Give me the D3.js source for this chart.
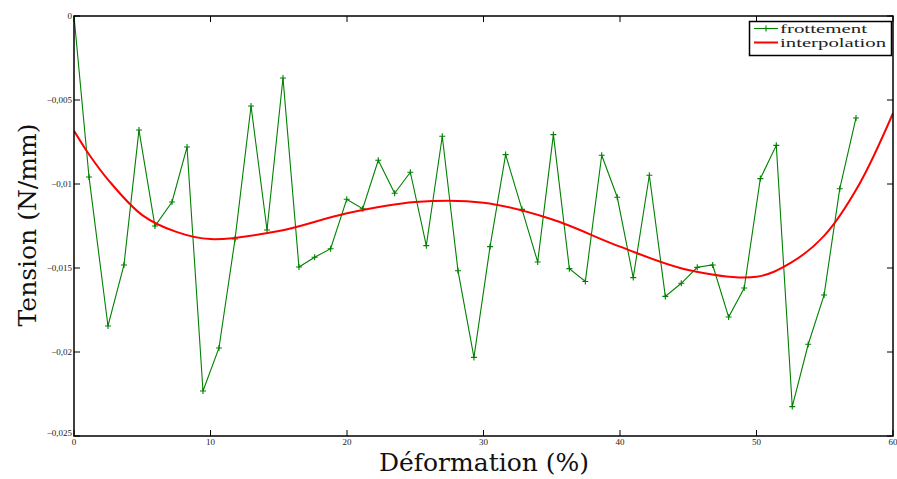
<!DOCTYPE html>
<html>
<head>
<meta charset="utf-8">
<script src="https://cdn.jsdelivr.net/npm/d3@7"></script>
<style>
  html, body { margin: 0; padding: 0; background: #fff; }
  svg { display: block; }
</style>
</head>
<body>
<svg id="chart" width="897" height="479"></svg>
<script>
// ---- data ----
const frotX = [0, 1.10, 2.49, 3.66, 4.76, 5.93, 7.18, 8.28, 9.45, 10.62, 11.80, 12.97, 14.14, 15.31,
  16.48, 17.63, 18.80, 19.98, 21.15, 22.29, 23.49, 24.64, 25.81, 26.98, 28.13, 29.30,
  30.48, 31.62, 32.82, 33.97, 35.12, 36.29, 37.46, 38.66, 39.80, 40.97, 42.15, 43.32, 44.49, 45.66,
  46.79, 47.96, 49.10, 50.28, 51.45, 52.62, 53.79, 54.95, 56.10, 57.29];
const frotY = [0, -0.00958, -0.01845, -0.01482, -0.00679, -0.01250, -0.01107, -0.00780, -0.02232, -0.01976,
  -0.01327, -0.00536, -0.01274, -0.00369,
  -0.01494, -0.01436, -0.01385, -0.01091, -0.01147, -0.00859, -0.01055, -0.00930, -0.01367, -0.00716,
  -0.01516, -0.02032,
  -0.01373, -0.00825, -0.01151, -0.01464, -0.00706, -0.01504, -0.01580, -0.00829, -0.01079, -0.01557,
  -0.00948, -0.01669, -0.01591, -0.01496,
  -0.01482, -0.01792, -0.01619, -0.00968, -0.00770, -0.02325, -0.01954, -0.01661, -0.01028, -0.00607];

const interpX = [0, 1.17, 2.5, 5, 7.5, 10, 15, 20, 25, 30, 35, 40, 45, 50, 52.5, 55, 57.5, 60];
const interpY = [-0.00683, -0.00832, -0.00975, -0.01185, -0.01285, -0.01328, -0.01280, -0.01174, -0.01107,
  -0.01111, -0.01210, -0.01373, -0.01512, -0.01552, -0.01470, -0.01304, -0.01006, -0.00579];

const xTicks = [0, 10, 20, 30, 40, 50, 60];
const yTicks = [0, -0.005, -0.01, -0.015, -0.02, -0.025];
const seriesNames = ["frottement", "interpolation"];
const seriesColors = ["#008000", "#ff0000"];

// ---- layout ----
const svg = d3.select("#chart");
const L = 74, R = 893, T = 16, B = 436;
const x = d3.scaleLinear().domain([0, 60]).range([L, R]);
const y = d3.scaleLinear().domain([-0.025, 0]).range([B, T]);
const FONT = "Liberation Serif";
const TITLE_FONT = "DejaVu Serif";

const fmt = v => {
  if (v === 0) return "0";
  return ("" + v).replace(".", ",").replace("-", "\u2212");
};

svg.append("defs").append("clipPath").attr("id", "clip")
  .append("rect").attr("x", L).attr("y", T).attr("width", R - L).attr("height", B - T);

// ticks (inward on all four sides)
const tk = 6;
const axG = svg.append("g").attr("stroke", "#000").attr("stroke-width", 1);
xTicks.forEach(t => {
  axG.append("line").attr("x1", x(t)).attr("x2", x(t)).attr("y1", B).attr("y2", B - tk);
  axG.append("line").attr("x1", x(t)).attr("x2", x(t)).attr("y1", T).attr("y2", T + tk);
});
yTicks.forEach(t => {
  axG.append("line").attr("x1", L).attr("x2", L + tk).attr("y1", y(t)).attr("y2", y(t));
  axG.append("line").attr("x1", R).attr("x2", R - tk).attr("y1", y(t)).attr("y2", y(t));
});

// data lines
const gData = svg.append("g").attr("clip-path", "url(#clip)");
const frot = frotX.map((d, i) => [d, frotY[i]]);
const interp = interpX.map((d, i) => [d, interpY[i]]);

gData.append("path").datum(frot)
  .attr("fill", "none").attr("stroke", seriesColors[0]).attr("stroke-width", 1.1)
  .attr("d", d3.line().x(d => x(d[0])).y(d => y(d[1])));

const ms = 3;
gData.append("g").selectAll("path.mk").data(frot).join("path")
  .attr("class", "mk")
  .attr("d", d => `M${x(d[0]) - ms},${y(d[1])}H${x(d[0]) + ms}M${x(d[0])},${y(d[1]) - ms}V${y(d[1]) + ms}`)
  .attr("stroke", seriesColors[0]).attr("stroke-width", 1.1).attr("fill", "none");

gData.append("path").datum(interp)
  .attr("fill", "none").attr("stroke", seriesColors[1]).attr("stroke-width", 2)
  .attr("d", d3.line().x(d => x(d[0])).y(d => y(d[1])).curve(d3.curveCatmullRom.alpha(0.5)));

// frame
svg.append("rect").attr("x", L).attr("y", T).attr("width", R - L).attr("height", B - T)
  .attr("fill", "none").attr("stroke", "#000").attr("stroke-width", 1.5);

// tick labels
svg.append("g").selectAll("text").data(xTicks).join("text")
  .attr("x", d => x(d)).attr("y", 445)
  .attr("text-anchor", "middle")
  .attr("font-family", FONT).attr("font-size", 9).attr("fill", "#222")
  .text(d => d);

svg.append("g").selectAll("text").data(yTicks).join("text")
  .attr("x", L - 2).attr("y", d => d === -0.025 ? y(d) - 0.5 : y(d) + 3)
  .attr("text-anchor", "end")
  .attr("font-family", FONT).attr("font-size", 9).attr("fill", "#222")
  .text(d => fmt(d));

// axis titles
svg.append("text")
  .attr("transform", `translate(36,${225}) rotate(-90)`)
  .attr("text-anchor", "middle")
  .attr("font-family", TITLE_FONT).attr("font-size", 25).attr("fill", "#111")
  .text("Tension (N/mm)");

svg.append("text")
  .attr("x", 484).attr("y", 471)
  .attr("text-anchor", "middle")
  .attr("font-family", TITLE_FONT).attr("font-size", 25).attr("fill", "#111")
  .text("Déformation (%)");

// legend
const lg = svg.append("g");
lg.append("rect").attr("x", 749.5).attr("y", 21.5).attr("width", 142).attr("height", 34)
  .attr("fill", "#fff").attr("stroke", "#000").attr("stroke-width", 1.5);
const legY = [28.5, 42.5];
const legW = [87, 106];
seriesNames.forEach((n, i) => {
  lg.append("line").attr("x1", 754).attr("x2", 778).attr("y1", legY[i]).attr("y2", legY[i])
    .attr("stroke", seriesColors[i]).attr("stroke-width", i === 0 ? 1.1 : 2);
  if (i === 0) {
    lg.append("path").attr("d", `M${766 - ms},${legY[i]}H${766 + ms}M766,${legY[i] - ms}V${legY[i] + ms}`)
      .attr("stroke", seriesColors[i]).attr("stroke-width", 1.1);
  }
  lg.append("text").attr("x", 780).attr("y", legY[i] + 4.5)
    .attr("font-family", FONT).attr("font-size", 12.5).attr("fill", "#222")
    .attr("textLength", legW[i]).attr("lengthAdjust", "spacingAndGlyphs")
    .text(n);
});
</script>
</body>
</html>
